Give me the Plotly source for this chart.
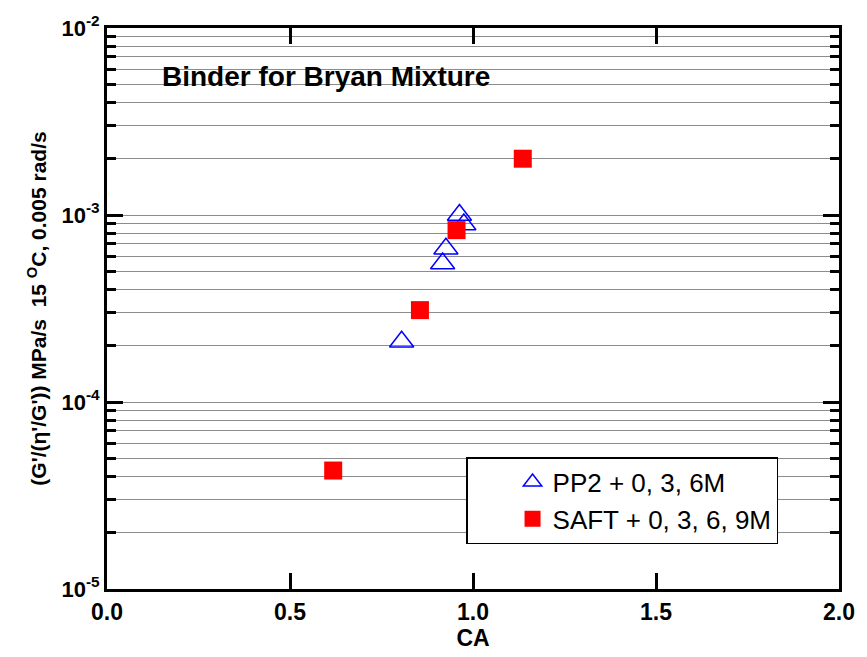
import plotly.graph_objects as go

# Data
pp2_ca = [0.805, 0.917, 0.926, 0.963, 0.975]
pp2_val = [2.1e-4, 5.5e-4, 6.6e-4, 1.0e-3, 8.9e-4]
saft_ca = [0.618, 0.855, 0.955, 1.136]
saft_val = [4.3e-5, 3.1e-4, 8.3e-4, 2.0e-3]

y_major = [1e-5, 1e-4, 1e-3, 1e-2]
y_major_text = ["10<sup>-5</sup>", "10<sup>-4</sup>", "10<sup>-3</sup>", "10<sup>-2</sup>"]
y_minor = [m * d for d in [1e-5, 1e-4, 1e-3] for m in range(2, 10)]

FONT = "Arial, Liberation Sans, sans-serif"

fig = go.Figure()
fig.add_trace(go.Scatter(
    x=pp2_ca, y=pp2_val, mode="markers", name="PP2 + 0, 3, 6M",
    marker=dict(symbol="triangle-up-open", size=21, color="#0000ff",
                line=dict(color="#0000ff", width=1.5)),
))
fig.add_trace(go.Scatter(
    x=saft_ca, y=saft_val, mode="markers", name="SAFT + 0, 3, 6, 9M",
    marker=dict(symbol="square", size=18, color="#ff0000",
                line=dict(width=0)),
))

fig.add_annotation(
    text="<b>Binder for Bryan Mixture</b>", xref="paper", yref="paper",
    x=0.072, y=0.913, xanchor="left", yanchor="middle", showarrow=False,
    font=dict(family=FONT, size=28, color="black"),
)

fig.update_layout(
    width=867, height=657,
    margin=dict(l=107, r=22, t=21, b=67),
    paper_bgcolor="white", plot_bgcolor="white",
    font=dict(family=FONT, color="black"),
    showlegend=True,
    legend=dict(
        x=0.4905, y=0.235, xanchor="left", yanchor="top",
        bordercolor="black", borderwidth=1.5, bgcolor="white",
        font=dict(family=FONT, size=26, color="black"),
        indentation=45,
    ),
)

fig.update_xaxes(
    range=[0, 2], dtick=0.5, tick0=0, tickformat=".1f",
    ticks="inside", ticklen=16, tickwidth=2.5, tickcolor="black",
    showline=True, linewidth=3, linecolor="black", mirror="allticks",
    showgrid=False, zeroline=False,
    tickfont=dict(family=FONT, size=23, color="black", weight="bold"),
    title=dict(text="<b>CA</b>", font=dict(family=FONT, size=23, color="black"), standoff=4),
)

fig.update_yaxes(
    type="log", range=[-5, -2],
    tickmode="array", tickvals=y_major, ticktext=y_major_text,
    ticks="inside", ticklen=16, tickwidth=2.5, tickcolor="black",
    showline=True, linewidth=3, linecolor="black", mirror="allticks",
    showgrid=True, gridcolor="#8c8c8c", gridwidth=1, zeroline=False,
    minor=dict(tickvals=y_minor, ticks="inside", ticklen=9, tickwidth=2.5,
               tickcolor="black", showgrid=True, gridcolor="#8c8c8c", gridwidth=1),
    tickfont=dict(family=FONT, size=22, color="black", weight="bold"),
    title=dict(text="<b>(G'/(η'/G')) MPa/s  15 <sup>O</sup>C, 0.005 rad/s</b>",
               font=dict(family=FONT, size=21, color="black"), standoff=10),
)

fig.write_html("out.html")
